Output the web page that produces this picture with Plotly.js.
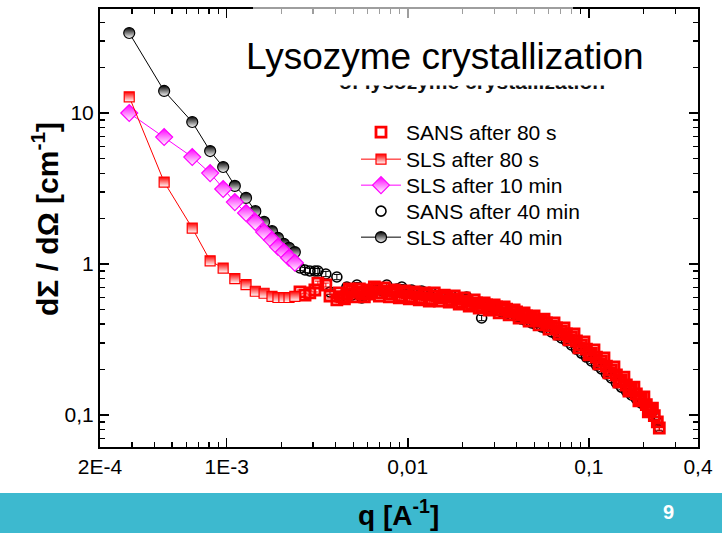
<!DOCTYPE html>
<html><head><meta charset="utf-8">
<script src="https://cdn.plot.ly/plotly-3.0.1.min.js"></script>
<style>html,body{margin:0;padding:0;background:#fff}#chart{width:722px;height:533px}</style>
</head><body><div id="chart"></div>
<script>
// SLS q values (A^-1)
const qSLS = [2.90e-4, 4.52e-4, 6.46e-4, 8.11e-4, 9.57e-4, 1.11e-3, 1.28e-3, 1.44e-3, 1.61e-3, 1.78e-3, 1.92e-3, 2.07e-3, 2.21e-3, 2.38e-3];
const iSLS80s  = [12.8, 3.49, 1.73, 1.05, 0.94, 0.80, 0.73, 0.66, 0.64, 0.61, 0.60, 0.60, 0.60, 0.61];
const iSLS10min = [10.0, 6.93, 5.11, 4.00, 3.14, 2.57, 2.18, 1.90, 1.63, 1.44, 1.30, 1.20, 1.10, 1.02];
const iSLS40min = [33.9, 14.0, 8.72, 5.60, 4.39, 3.29, 2.74, 2.24, 1.90, 1.65, 1.49, 1.36, 1.28, 1.20];

// SANS q values (A^-1), main detector bins
const qSANS = [0.00254,0.00271,0.00288,0.00307,0.00319,0.00353,0.00372,0.00406,0.00433,0.00461,
  0.00491,0.00524,0.00558,0.00594,0.00633,0.00675,0.00719,0.00766,0.00816,0.00870,
  0.00927,0.00987,0.01052,0.01121,0.01194,0.01272,0.01356,0.01445,0.01539,0.01640,
  0.01748,0.01862,0.01984,0.02114,0.02253,0.02400,0.02557,0.02725,0.02904,0.03093,
  0.03296,0.03512,0.03741,0.03987,0.04248,0.04525,0.04823,0.05138,0.05474,0.05833,
  0.06215,0.06622,0.07055,0.07516,0.08009,0.08533,0.09092,0.09687,0.1032,0.1100,
  0.1172,0.1249,0.1330,0.1418,0.1510,0.1609,0.1715,0.1827,0.1947,0.2074,
  0.2182,0.2296,0.2385,0.2446];
const iSANS80s = [0.653,0.623,0.643,0.673,0.748,0.726,0.614,0.578,0.605,0.633,
  0.663,0.653,0.633,0.673,0.653,0.683,0.643,0.663,0.633,0.653,
  0.614,0.643,0.605,0.633,0.596,0.623,0.587,0.614,0.596,0.605,
  0.578,0.587,0.560,0.569,0.543,0.552,0.527,0.535,0.511,0.519,
  0.496,0.503,0.481,0.481,0.460,0.453,0.439,0.426,0.419,0.407,
  0.389,0.377,0.360,0.344,0.329,0.309,0.291,0.273,0.257,0.242,
  0.228,0.211,0.199,0.184,0.171,0.158,0.149,0.138,0.128,0.117,
  0.108,0.099,0.090,0.082];
const iSANS40min = [0.941,0.913,0.899,0.899,0.899,0.859,0.653,0.820,0.614,0.704,
  0.623,0.726,0.596,0.653,0.673,0.694,0.663,0.726,0.653,0.683,
  0.704,0.643,0.673,0.633,0.663,0.623,0.643,0.614,0.623,0.605,
  0.614,0.587,0.596,0.605,0.560,0.543,0.439,0.519,0.503,0.496,
  0.481,0.474,0.460,0.446,0.432,0.419,0.407,0.395,0.383,0.371,
  0.355,0.339,0.324,0.309,0.291,0.273,0.257,0.242,0.228,0.214,
  0.202,0.187,0.176,0.163,0.153,0.144,0.136,0.128,0.120,0.113,
  0.105,0.097,0.090,0.082];

// SANS after 80 s, second detector setting (interleaved q bins)
const qSANS80sB = [0.004194,0.004469,0.004761,0.005073,0.005406,0.005760,0.006137,0.006539,0.006967,0.007424,
  0.007910,0.008428,0.008980,0.009568,0.010195,0.010863,0.011574,0.012333,0.013140,0.014001,
  0.014918,0.015895,0.016936,0.018046,0.019228,0.020487,0.021829,0.023259,0.024783,0.026406,
  0.028136,0.029979,0.031942,0.034034,0.036264,0.038639,0.041170,0.043867,0.046740,0.049802,
  0.053064,0.056540,0.060243,0.064189,0.068394,0.072874,0.077648,0.082734,0.088153,0.093927,
  0.10008,0.10664,0.11362,0.12107,0.12900,0.13745,0.14645,0.15604,0.16627,0.17716,
  0.18876,0.20113,0.2127,0.2241];
const iSANS80sB = [0.643,0.587,0.683,0.605,0.683,0.605,0.633,0.704,0.614,0.694,
  0.605,0.673,0.596,0.663,0.587,0.653,0.578,0.643,0.569,0.643,
  0.569,0.623,0.560,0.614,0.543,0.596,0.527,0.578,0.511,0.552,
  0.496,0.535,0.474,0.519,0.460,0.496,0.439,0.474,0.419,0.453,
  0.395,0.432,0.371,0.407,0.344,0.377,0.314,0.344,0.278,0.305,
  0.250,0.270,0.218,0.239,0.190,0.208,0.165,0.178,0.144,0.153,
  0.124,0.132,0.105,0.111];

const xTickVals = [2e-4, 1e-3, 0.01, 0.1, 0.4];
const xTickText = ['2E-4', '1E-3', '0,01', '0,1', '0,4'];
const yTickVals = [0.1, 1, 10];
const yTickText = ['0,1', '1', '10'];
const xMinor = [3e-4,4e-4,5e-4,6e-4,7e-4,8e-4,9e-4,2e-3,3e-3,4e-3,5e-3,6e-3,7e-3,8e-3,9e-3,0.02,0.03,0.04,0.05,0.06,0.07,0.08,0.09,0.2,0.3];
const yMinor = [0.07,0.08,0.09,0.2,0.3,0.4,0.5,0.6,0.7,0.8,0.9,2,3,4,5,6,7,8,9,20,30,40];

const FONT = 'Liberation Sans, Arial, sans-serif';
const RED = '#ff0000', MAG = '#ff00ff', BLK = '#000000';

const traces = [
  {name:'SANS after 40 min', legend:'legend4', x:qSANS, y:iSANS40min, mode:'markers',
   marker:{symbol:'circle-open', size:10, color:BLK, line:{width:1.6, color:BLK}},
   error_y:{type:'percent', value:4, color:BLK, thickness:1, width:3}},
  {name:'SLS after 40 min', legend:'legend5', x:qSLS, y:iSLS40min, mode:'lines+markers',
   line:{color:BLK, width:1},
   marker:{symbol:'circle', size:11, color:BLK, gradient:{type:'vertical', color:'#ffffff'}, line:{width:1.2, color:BLK}}},
  {name:'SLS after 10 min', legend:'legend3', x:qSLS, y:iSLS10min, mode:'lines+markers',
   line:{color:MAG, width:1},
   marker:{symbol:'diamond', size:13, color:MAG, gradient:{type:'vertical', color:'#ffffff'}, line:{width:1.2, color:MAG}}},
  {name:'SANS after 80 s', legend:'legend', x:qSANS.concat(qSANS80sB), y:iSANS80s.concat(iSANS80sB), mode:'markers',
   marker:{symbol:'square-open', size:10, color:RED, line:{width:2.8, color:RED}},
   error_y:{type:'percent', value:3, color:RED, thickness:1, width:3}},
  {name:'SLS after 80 s', legend:'legend2', x:qSLS, y:iSLS80s, mode:'lines+markers',
   line:{color:RED, width:1},
   marker:{symbol:'square', size:10, color:RED, gradient:{type:'vertical', color:'#ffffff'}, line:{width:1.2, color:RED}}}
];

const L = 100, T = 9, W = 598, H = 438;
const px = v => (v - L) / W;
const py = v => (T + H - v) / H;

function leg(topPx) {
  return {x:px(356), y:py(topPx), xanchor:'left', yanchor:'top', bgcolor:'rgba(0,0,0,0)',
          font:{family:FONT, size:21, color:'#000'}, itemwidth:40};
}

const layout = {
  width:722, height:533,
  margin:{l:L, r:722-L-W, t:T, b:533-T-H},
  paper_bgcolor:'#ffffff', plot_bgcolor:'#ffffff',
  font:{family:FONT, color:'#000', size:21},
  showlegend:true,
  legend:leg(112), legend2:leg(139), legend3:leg(165), legend4:leg(191), legend5:leg(217),
  xaxis:{type:'log', range:[Math.log10(2e-4), Math.log10(0.4)],
         tickmode:'array', tickvals:xTickVals, ticktext:xTickText,
         ticks:'inside', ticklen:9, tickwidth:1.5, tickcolor:'#000',
         minor:{tickmode:'array', tickvals:xMinor, ticks:'inside', ticklen:5, tickwidth:1.2, tickcolor:'#000'},
         showline:true, linewidth:2, linecolor:'#000', mirror:'ticks',
         showgrid:false, zeroline:false, tickfont:{family:FONT, size:21}},
  yaxis:{type:'log', range:[-1.212, 1.689],
         tickmode:'array', tickvals:yTickVals, ticktext:yTickText,
         ticks:'inside', ticklen:9, tickwidth:1.5, tickcolor:'#000',
         minor:{tickmode:'array', tickvals:yMinor, ticks:'inside', ticklen:5, tickwidth:1.2, tickcolor:'#000'},
         showline:true, linewidth:2, linecolor:'#000', mirror:'ticks',
         showgrid:false, zeroline:false, tickfont:{family:FONT, size:21}},
  shapes:[
    {type:'rect', xref:'paper', yref:'paper', x0:px(0), x1:px(722), y0:py(533), y1:py(493),
     fillcolor:'#3db9cf', line:{width:0}, layer:'below'},
    {type:'rect', xref:'paper', yref:'paper', x0:px(253), x1:px(573), y0:py(95), y1:py(0),
     fillcolor:'rgba(255,255,255,0.62)', line:{width:0}, layer:'above'}
  ],
  annotations:[
    {xref:'paper', yref:'paper', x:px(472), y:py(82), xanchor:'center', yanchor:'middle', showarrow:false,
     text:'<b>of lysozyme crystallization</b>', font:{family:FONT, size:21, color:'#111'}},
    {xref:'paper', yref:'paper', x:px(472), y:py(77.5), xanchor:'center', yanchor:'middle', showarrow:false,
     text:' ', width:300, height:15, bgcolor:'#ffffff', borderpad:0},
    {xref:'paper', yref:'paper', x:px(445), y:py(56), xanchor:'center', yanchor:'middle', showarrow:false,
     text:'Lysozyme crystallization', font:{family:FONT, size:37, color:'#000'}},
    {xref:'paper', yref:'paper', x:px(45), y:py(219), xanchor:'center', yanchor:'middle', showarrow:false,
     textangle:-90, text:'<b>dΣ / dΩ [cm<sup>-1</sup>]</b>', font:{family:FONT, size:30, color:'#000'}},
    {xref:'paper', yref:'paper', x:px(398), y:py(513), xanchor:'center', yanchor:'middle', showarrow:false,
     text:'<b>q [A<sup>-1</sup>]</b>', font:{family:FONT, size:28, color:'#000'}},
    {xref:'paper', yref:'paper', x:px(668), y:py(512), xanchor:'center', yanchor:'middle', showarrow:false,
     text:'<b>9</b>', font:{family:FONT, size:20, color:'#ffffff'}}
  ]
};

Plotly.newPlot('chart', traces, layout, {staticPlot:true, displayModeBar:false});
</script>
</body></html>
